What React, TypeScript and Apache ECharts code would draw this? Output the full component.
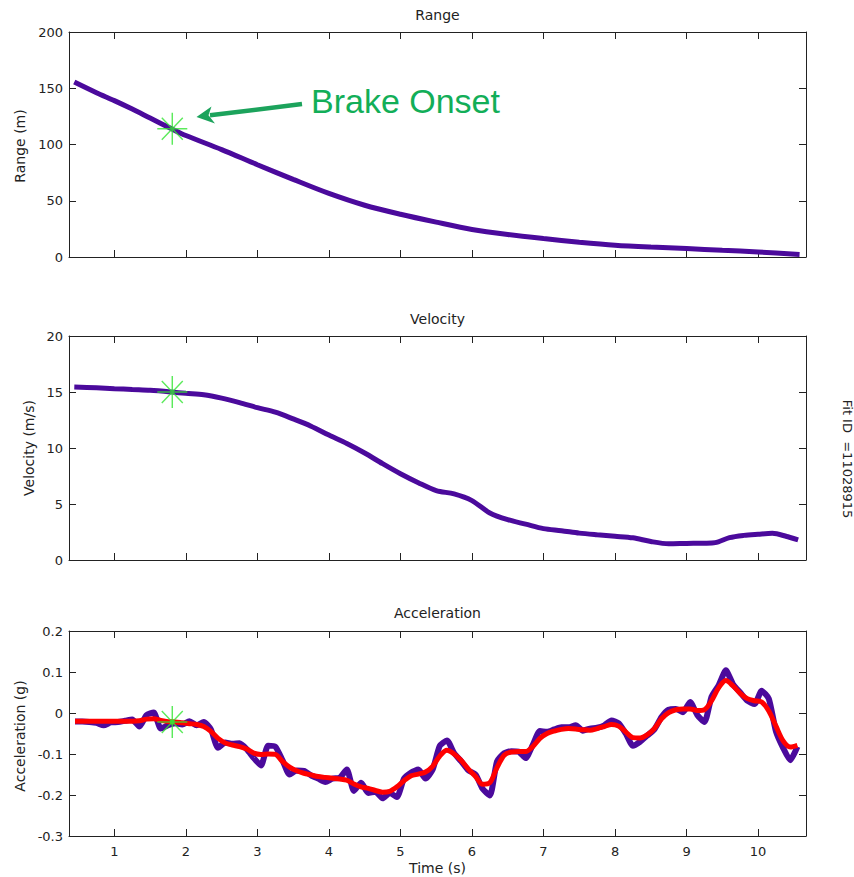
import React, { useEffect, useRef } from 'react';
import * as echarts from 'echarts';

// ---- data ----
const timeTicks = [1, 2, 3, 4, 5, 6, 7, 8, 9, 10];
const xMin = 0.366;
const xMax = 10.67;

const rangeT = [0.44, 0.75, 1.0, 1.25, 1.5, 1.8, 2.0, 2.5, 3.0, 3.5, 4.0, 4.5, 5.0, 5.5, 6.0, 6.5, 7.0, 7.5, 8.0, 8.5, 9.0, 9.5, 10.0, 10.58];
const rangeV = [155.5, 146, 139, 131.5, 123.5, 114, 108, 95.5, 82, 69, 56.5, 46, 38, 31, 24.5, 20, 16.4, 13.2, 10.5, 8.8, 7.5, 6.0, 4.5, 2.3];

const velT = [0.44, 0.75, 1.0, 1.25, 1.5, 1.8, 2.0, 2.25, 2.5, 2.75, 3.0, 3.25, 3.5, 3.75, 4.0, 4.25, 4.5, 4.75, 5.0, 5.25, 5.5, 5.75, 6.0, 6.25, 6.5, 6.75, 7.0, 7.25, 7.5, 7.75, 8.0, 8.25, 8.5, 8.75, 9.0, 9.25, 9.4, 9.6, 9.8, 10.0, 10.2, 10.4, 10.56];
const velV = [15.45, 15.38, 15.3, 15.22, 15.15, 15.0, 14.88, 14.75, 14.45, 14.05, 13.6, 13.2, 12.6, 11.95, 11.15, 10.4, 9.55, 8.6, 7.7, 6.9, 6.2, 5.9, 5.3, 4.2, 3.6, 3.2, 2.8, 2.62, 2.4, 2.25, 2.12, 1.98, 1.65, 1.45, 1.48, 1.5, 1.55, 2.0, 2.2, 2.3, 2.38, 2.1, 1.8];

// acceleration sampled every 0.1 s starting at 0.45 s
const accStart = 0.45;
const accStep = 0.1;
const accFit = [
  -0.020, -0.020, -0.020, -0.020, -0.020, -0.020, -0.020, -0.020, -0.020, -0.019,
  -0.015, -0.014, -0.018, -0.021, -0.022, -0.024, -0.026, -0.028, -0.033, -0.045,
  -0.062, -0.073, -0.078, -0.082, -0.088, -0.098, -0.101, -0.100, -0.101, -0.118,
  -0.132, -0.141, -0.147, -0.151, -0.155, -0.157, -0.159, -0.161, -0.164, -0.173,
  -0.180, -0.184, -0.189, -0.193, -0.191, -0.180, -0.165, -0.153, -0.149, -0.144,
  -0.130, -0.105, -0.091, -0.100, -0.116, -0.137, -0.155, -0.174, -0.170, -0.133,
  -0.103, -0.095, -0.094, -0.094, -0.082, -0.062, -0.050, -0.044, -0.040, -0.038,
  -0.039, -0.041, -0.042, -0.038, -0.033, -0.028, -0.032, -0.046, -0.060, -0.061,
  -0.053, -0.038, -0.014, 0.001, 0.008, 0.010, 0.010, 0.006, 0.008, 0.030,
  0.062, 0.079, 0.066, 0.048, 0.035, 0.030, 0.027, 0.005, -0.032, -0.068,
  -0.083, -0.079,
];
const accRaw = [
  -0.021, -0.021, -0.022, -0.024, -0.030, -0.023, -0.022, -0.019, -0.016, -0.033,
  -0.005, 0.001, -0.038, -0.030, -0.025, -0.028, -0.020, -0.030, -0.022, -0.040,
  -0.085, -0.072, -0.075, -0.074, -0.088, -0.110, -0.128, -0.080, -0.082, -0.115,
  -0.150, -0.140, -0.141, -0.152, -0.160, -0.168, -0.160, -0.158, -0.138, -0.190,
  -0.170, -0.195, -0.192, -0.208, -0.195, -0.205, -0.160, -0.145, -0.138, -0.160,
  -0.138, -0.080, -0.067, -0.098, -0.118, -0.140, -0.150, -0.185, -0.201, -0.118,
  -0.098, -0.093, -0.094, -0.110, -0.078, -0.044, -0.046, -0.040, -0.035, -0.035,
  -0.030, -0.043, -0.038, -0.036, -0.030, -0.018, -0.025, -0.050, -0.080, -0.070,
  -0.055, -0.040, -0.010, 0.008, 0.010, 0.002, 0.027, -0.005, -0.022, 0.040,
  0.068, 0.104, 0.070, 0.050, 0.030, 0.022, 0.054, 0.035, -0.045, -0.085,
  -0.115, -0.082,
];

const brakeT = 1.81;
const brakeRange = 114;
const brakeVel = 15.0;
const brakeAcc = -0.022;

const titles = ['Range', 'Velocity', 'Acceleration'];
const yNames = ['Range (m)', 'Velocity (m/s)', 'Acceleration (g)'];
const xName = 'Time (s)';
const fitIdText = 'Fit ID  =11028915';
const annotationText = 'Brake Onset';

// ---- styles ----
const PURPLE = '#4b0a9c';
const RED = '#ff0000';
const STAR = '#33e533';
const GREEN_TXT = '#12ae58';
const AXIS = '#222222';
const FONT = 'DejaVu Sans';

const grids = [
  { left: 69, top: 32, width: 737, height: 225 },
  { left: 69, top: 336, width: 737, height: 224 },
  { left: 69, top: 631, width: 737, height: 205 },
];
const yRanges = [
  { min: 0, max: 200, interval: 50 },
  { min: 0, max: 20, interval: 5 },
  { min: -0.3, max: 0.2, interval: 0.1 },
];

const starPath = 'path://M0,16L30,16M15,0L15,32M4.5,5L25.5,27M25.5,5L4.5,27';

export default function App() {
  const ref = useRef<HTMLDivElement>(null);
  useEffect(() => {
    if (!ref.current) return;
    const chart = echarts.init(ref.current, null, { renderer: 'svg' });
    const accT = accFit.map((_, i) => +(accStart + accStep * i).toFixed(2));

    const tickStyle = { inside: true, length: 7, lineStyle: { color: AXIS, width: 1 } };
    const xAxes: any[] = [];
    const yAxes: any[] = [];
    grids.forEach((_, g) => {
      ['bottom', 'top'].forEach((pos) => {
        xAxes.push({
          type: 'value',
          gridIndex: g,
          position: pos,
          min: xMin,
          max: xMax,
          axisLine: { show: true, onZero: false, lineStyle: { color: AXIS, width: 1 } },
          axisTick: { show: true, ...tickStyle, customValues: timeTicks },
          axisLabel: {
            show: g === 2 && pos === 'bottom',
            customValues: timeTicks,
            color: AXIS,
            fontFamily: FONT,
            fontSize: 13,
            margin: 9,
          },
          splitLine: { show: false },
        });
      });
      ['left', 'right'].forEach((pos) => {
        yAxes.push({
          type: 'value',
          gridIndex: g,
          position: pos,
          ...yRanges[g],
          axisLine: { show: true, onZero: false, lineStyle: { color: AXIS, width: 1 } },
          axisTick: { show: true, ...tickStyle },
          axisLabel: {
            show: pos === 'left',
            color: AXIS,
            fontFamily: FONT,
            fontSize: 13,
            margin: 6,
          },
          splitLine: { show: false },
        });
      });
    });

    const starSeries = (g: number, v: number) => ({
      type: 'scatter',
      xAxisIndex: g * 2,
      yAxisIndex: g * 2,
      data: [[brakeT, v]],
      symbol: starPath,
      symbolSize: [30, 32],
      itemStyle: { color: 'none', borderColor: STAR, borderWidth: 1.5 },
      z: 10,
      silent: true,
    });

    const textEls: any[] = [];
    const titleY = [15, 319, 613];
    titles.forEach((t, i) =>
      textEls.push({
        type: 'text',
        x: 437.5,
        y: titleY[i],
        style: { text: t, fill: AXIS, font: `14px "${FONT}"`, textAlign: 'center', textVerticalAlign: 'middle' },
      })
    );
    const yLab = [
      { x: 20, y: 146 },
      { x: 29, y: 448 },
      { x: 20, y: 736 },
    ];
    yNames.forEach((t, i) =>
      textEls.push({
        type: 'text',
        x: yLab[i].x,
        y: yLab[i].y,
        rotation: Math.PI / 2,
        style: { text: t, fill: AXIS, font: `14px "${FONT}"`, textAlign: 'center', textVerticalAlign: 'middle' },
      })
    );
    textEls.push({
      type: 'text',
      x: 437.5,
      y: 868,
      style: { text: xName, fill: AXIS, font: `14px "${FONT}"`, textAlign: 'center', textVerticalAlign: 'middle' },
    });
    textEls.push({
      type: 'text',
      x: 847,
      y: 459,
      rotation: -Math.PI / 2,
      style: { text: fitIdText, fill: AXIS, font: `13px "${FONT}"`, textAlign: 'center', textVerticalAlign: 'middle' },
    });
    // annotation
    textEls.push({
      type: 'text',
      x: 311,
      y: 101,
      z: 20,
      style: { text: annotationText, fill: GREEN_TXT, font: '34px "Liberation Sans"', textAlign: 'left', textVerticalAlign: 'middle' },
    });
    textEls.push({
      type: 'line',
      z: 20,
      shape: { x1: 302, y1: 104, x2: 210, y2: 115.3 },
      style: { stroke: '#1ca35c', lineWidth: 4.5 },
    });
    textEls.push({
      type: 'polygon',
      z: 20,
      shape: { points: [[196.5, 117], [211.5, 106.5], [208.5, 115.2], [215, 123.5]] },
      style: { fill: '#1ca35c' },
    });

    chart.setOption({
      animation: false,
      backgroundColor: '#ffffff',
      grid: grids.map((g) => ({ ...g, containLabel: false, outerBoundsMode: 'none' })),
      xAxis: xAxes,
      yAxis: yAxes,
      series: [
        {
          type: 'line',
          xAxisIndex: 0,
          yAxisIndex: 0,
          data: rangeT.map((t, i) => [t, rangeV[i]]),
          showSymbol: false,
          smooth: 0.3,
          lineStyle: { color: PURPLE, width: 5 },
          silent: true,
        },
        {
          type: 'line',
          xAxisIndex: 2,
          yAxisIndex: 2,
          data: velT.map((t, i) => [t, velV[i]]),
          showSymbol: false,
          smooth: 0.3,
          lineStyle: { color: PURPLE, width: 5 },
          silent: true,
        },
        {
          type: 'line',
          xAxisIndex: 4,
          yAxisIndex: 4,
          data: accT.map((t, i) => [t, accRaw[i]]),
          showSymbol: false,
          smooth: 0.2,
          lineStyle: { color: PURPLE, width: 6 },
          silent: true,
        },
        {
          type: 'line',
          xAxisIndex: 4,
          yAxisIndex: 4,
          data: accT.map((t, i) => [t, accFit[i]]),
          showSymbol: false,
          smooth: 0.3,
          lineStyle: { color: RED, width: 5 },
          silent: true,
        },
        starSeries(0, brakeRange),
        starSeries(1, brakeVel),
        starSeries(2, brakeAcc),
        {
          type: 'scatter',
          xAxisIndex: 4,
          yAxisIndex: 4,
          data: [[brakeT, brakeAcc]],
          symbol: 'circle',
          symbolSize: 5,
          itemStyle: { color: STAR },
          z: 11,
          silent: true,
        },
      ],
      graphic: textEls,
    });
    return () => chart.dispose();
  }, []);
  return (
    <div
      ref={ref}
      style={{ position: 'fixed', left: 0, top: 0, width: 854, height: 877, background: '#fff' }}
    />
  );
}
